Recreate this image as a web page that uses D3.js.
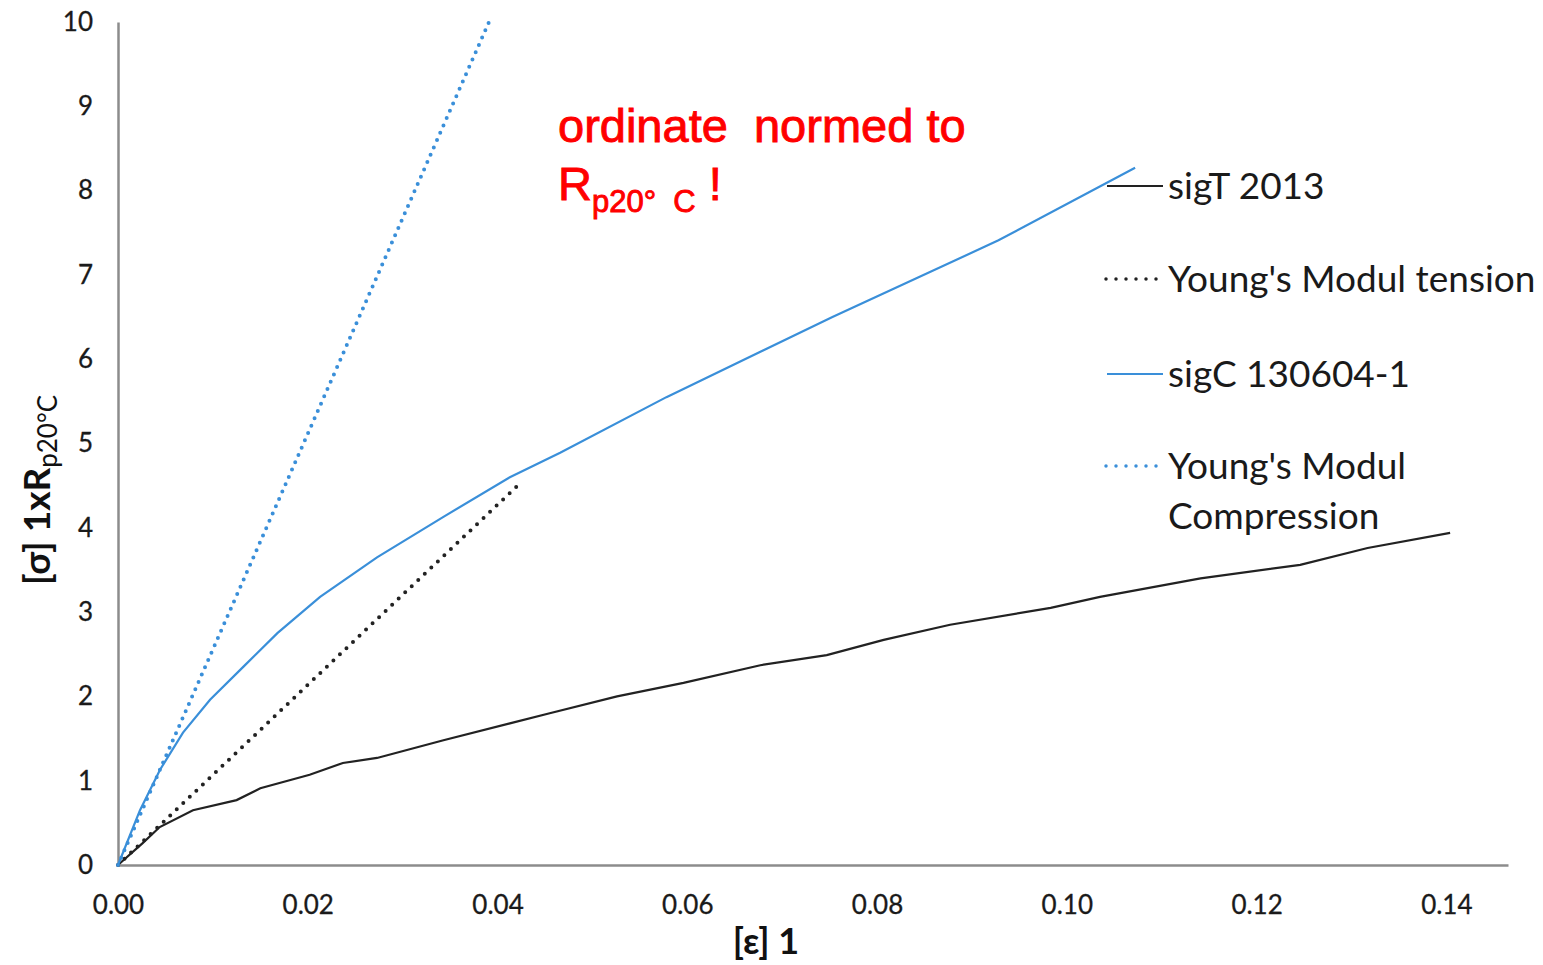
<!DOCTYPE html>
<html>
<head>
<meta charset="utf-8">
<script src="https://cdn.jsdelivr.net/npm/d3@7"></script>
<style>
  body { margin: 0; background: #fff; }
  svg { display: block; }
</style>
</head>
<body>
<div class="chart"></div>
<script>
// strain / normed stress readings
const sigT_eps = [0, 0.0026, 0.0044, 0.0079, 0.0125, 0.015, 0.0202, 0.0237, 0.0273, 0.0343, 0.0413, 0.0455, 0.0526, 0.0596, 0.0677, 0.0747, 0.0807, 0.0877, 0.0983, 0.1035, 0.1141, 0.1246, 0.1317, 0.1404];
const sigT_sig = [0, 0.26, 0.45, 0.65, 0.77, 0.91, 1.07, 1.21, 1.27, 1.48, 1.68, 1.80, 2.00, 2.16, 2.37, 2.49, 2.67, 2.85, 3.05, 3.18, 3.40, 3.56, 3.76, 3.94];

const sigC_eps = [0, 0.00232, 0.00443, 0.00685, 0.0097, 0.0132, 0.0168, 0.0213, 0.0273, 0.0343, 0.0413, 0.0466, 0.0578, 0.0753, 0.0928, 0.1072];
const sigC_sig = [0, 0.65, 1.13, 1.57, 1.96, 2.35, 2.75, 3.18, 3.65, 4.13, 4.60, 4.89, 5.55, 6.50, 7.41, 8.27];

const youngT_eps = [0, 0.0424];
const youngT_sig = [0, 4.53];
const youngC_eps = [0, 0.0391];
const youngC_sig = [0, 10];

const xTicks = [0, 0.02, 0.04, 0.06, 0.08, 0.10, 0.12, 0.14];
const yTicks = [0, 1, 2, 3, 4, 5, 6, 7, 8, 9, 10];

const legendNames = ["sigT 2013", "Young's Modul tension", "sigC 130604-1", "Young's Modul"];

const blue = "#3a8fd9";
const black = "#222";
const calibri = "Lato, 'Open Sans', sans-serif";

const W = 1543, H = 965;
const svg = d3.select(".chart").append("svg")
    .attr("width", W)
    .attr("height", H);

const x = d3.scaleLinear().domain([0, 0.1465]).range([118, 1508]);
const y = d3.scaleLinear().domain([0, 10]).range([865, 22]);

const zip = (a, b) => a.map((v, i) => [v, b[i]]);
const line = d3.line().x(d => x(d[0])).y(d => y(d[1]));

/* axes */
const xAxis = svg.append("g")
    .attr("transform", `translate(0,${y(0)})`)
    .call(d3.axisBottom(x).tickValues(xTicks).tickFormat(d3.format(".2f")).tickSize(0).tickPadding(31));
const yAxis = svg.append("g")
    .attr("transform", `translate(${x(0)},0)`)
    .call(d3.axisLeft(y).tickValues(yTicks).tickSize(0).tickPadding(25));

[xAxis, yAxis].forEach(g => {
    g.select(".domain").attr("stroke", "#8c8c8c").attr("stroke-width", 2.5);
    g.selectAll("text")
        .attr("font-family", calibri)
        .attr("font-size", "26px")
        .attr("fill", "#1a1a1a")
        .attr("stroke", "#1a1a1a")
        .attr("stroke-width", 0.3);
});

/* series */
svg.append("path")
    .datum(zip(sigT_eps, sigT_sig))
    .attr("d", line)
    .attr("fill", "none")
    .attr("stroke", black)
    .attr("stroke-width", 2.2);

svg.append("path")
    .datum(zip(youngT_eps, youngT_sig))
    .attr("d", line)
    .attr("fill", "none")
    .attr("stroke", black)
    .attr("stroke-width", 4)
    .attr("stroke-linecap", "round")
    .attr("stroke-dasharray", "0 9");

svg.append("path")
    .datum(zip(sigC_eps, sigC_sig))
    .attr("d", line)
    .attr("fill", "none")
    .attr("stroke", blue)
    .attr("stroke-width", 2.2);

svg.append("path")
    .datum(zip(youngC_eps, youngC_sig))
    .attr("d", line)
    .attr("fill", "none")
    .attr("stroke", blue)
    .attr("stroke-width", 4)
    .attr("stroke-linecap", "round")
    .attr("stroke-dasharray", "0 8");

/* legend */
const legendY = [186, 279, 374, 466];
const legendStyle = [
    {stroke: black, dash: null, w: 2.2},
    {stroke: black, dash: "0 10", w: 3.5},
    {stroke: blue, dash: null, w: 2.2},
    {stroke: blue, dash: "0 10", w: 3.5}
];
const legend = svg.append("g");
legendNames.forEach((name, i) => {
    const s = legendStyle[i];
    const ln = legend.append("line")
        .attr("x1", s.dash ? 1106 : 1107).attr("x2", s.dash ? 1157 : 1163)
        .attr("y1", legendY[i]).attr("y2", legendY[i])
        .attr("stroke", s.stroke)
        .attr("stroke-width", s.w);
    if (s.dash) ln.attr("stroke-dasharray", s.dash).attr("stroke-linecap", "round");
    legend.append("text")
        .attr("x", 1168)
        .attr("y", legendY[i] + 13)
        .attr("font-family", calibri)
        .attr("font-size", "37px")
        .attr("fill", "#1a1a1a")
        .text(name);
});
legend.append("text")
    .attr("x", 1168)
    .attr("y", 529)
    .attr("font-family", calibri)
    .attr("font-size", "37px")
    .attr("fill", "#1a1a1a")
    .text("Compression");

/* axis titles */
svg.append("text")
    .attr("x", 766)
    .attr("y", 954)
    .attr("text-anchor", "middle")
    .attr("font-family", calibri)
    .attr("font-weight", "bold")
    .attr("font-size", "36px")
    .attr("fill", "#111")
    .text("[ε] 1");

const yt = svg.append("text")
    .attr("transform", "translate(50,490) rotate(-90)")
    .attr("text-anchor", "middle")
    .attr("font-family", calibri)
    .attr("font-weight", "bold")
    .attr("font-size", "37px")
    .attr("fill", "#111");
yt.append("tspan").text("[σ] 1xR");
yt.append("tspan").attr("dy", 7).attr("font-size", "26px").attr("font-weight", "normal").text("p20°C");

/* red note */
const note = svg.append("g")
    .attr("font-family", "'Liberation Sans', Arial, sans-serif")
    .attr("fill", "#ff0000")
    .attr("stroke", "#ff0000")
    .attr("stroke-width", 0.9);
note.append("text")
    .attr("x", 558).attr("y", 142)
    .attr("font-size", "47px")
    .text("ordinate\u00a0\u00a0normed to");
const r = note.append("text")
    .attr("x", 558).attr("y", 200)
    .attr("font-size", "47px");
r.append("tspan").text("R");
r.append("tspan").attr("dy", 12).attr("font-size", "31px").text("p20°\u00a0\u00a0C");
r.append("tspan").attr("dy", -12).text(" !");
</script>
</body>
</html>
